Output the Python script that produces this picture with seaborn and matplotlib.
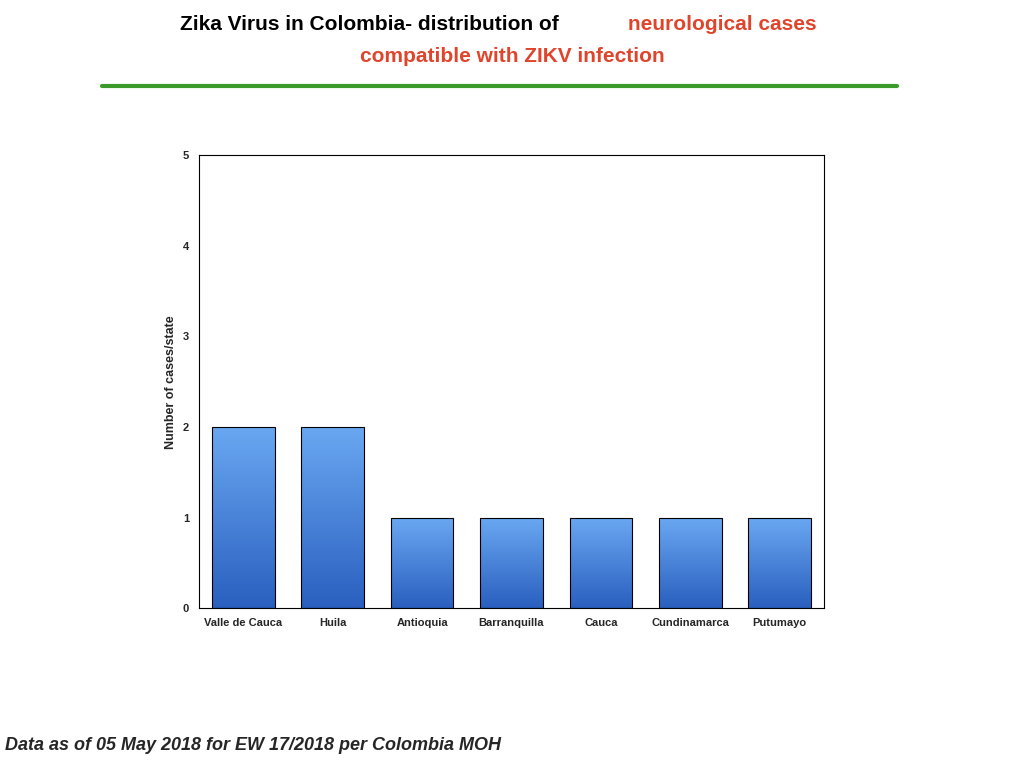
import numpy as np
import pandas as pd
import matplotlib
matplotlib.use("Agg")
import matplotlib.pyplot as plt
import seaborn as sns
from matplotlib.lines import Line2D

states = ["Valle de Cauca", "Huila", "Antioquia", "Barranquilla", "Cauca",
          "Cundinamarca", "Putumayo"]
cases = [2, 2, 1, 1, 1, 1, 1]

sns.set_style("white")
plt.rcParams["font.family"] = ["Liberation Sans", "DejaVu Sans"]

df = pd.DataFrame({"state": states, "cases": cases})
fig = plt.figure(figsize=(10.24, 7.68), dpi=100)
ax = fig.add_axes([0.194, 0.208, 0.611, 0.590])
sns.barplot(data=df, x="state", y="cases", ax=ax, width=0.7,
            color="#4a86dc", edgecolor="black", linewidth=0.8)

# vertical gradient fill in each bar
grad = np.linspace(0, 1, 256).reshape(-1, 1)
cmap = matplotlib.colors.LinearSegmentedColormap.from_list("b", ["#2a5fbf", "#6aa8f2"])
for p in ax.patches:
    x0, y0 = p.get_x(), p.get_y()
    w, h = p.get_width(), p.get_height()
    im = ax.imshow(grad, extent=[x0, x0 + w, y0, y0 + h], origin="lower",
                   cmap=cmap, aspect="auto", zorder=p.get_zorder() + 0.1)
    im.set_clip_path(p)
    p.set_facecolor("none")
    p.set_zorder(p.get_zorder() + 0.2)

ax.set_xlim(-0.5, len(states) - 0.5)
ax.set_ylim(0, 5)
ax.set_yticks(range(6))
ax.set_xlabel("")
ax.set_ylabel("Number of cases/state", fontsize=9, fontweight="bold")
ax.tick_params(labelsize=8)
for t in ax.get_xticklabels() + ax.get_yticklabels():
    t.set_fontweight("bold")
for s in ax.spines.values():
    s.set_color("black")
    s.set_linewidth(0.8)

red = "#e0452c"
fig.text(0.176, 0.968, "Zika Virus in Colombia\u2010 distribution of ", fontsize=15,
         fontweight="bold", color="black", va="center")
fig.text(0.613, 0.968, "neurological cases", fontsize=15, fontweight="bold",
         color=red, va="center")
fig.text(0.5, 0.926, "compatible with ZIKV infection", fontsize=15, fontweight="bold",
         color=red, va="center", ha="center")
fig.add_artist(Line2D([0.1, 0.876], [0.888, 0.888], color="#3a9a2a", linewidth=3))
fig.text(0.005, 0.029, "Data as of 05 May 2018 for EW 17/2018 per Colombia MOH",
         fontsize=13, fontweight="bold", fontstyle="italic", va="center")

fig.savefig("out.png", dpi=100)
